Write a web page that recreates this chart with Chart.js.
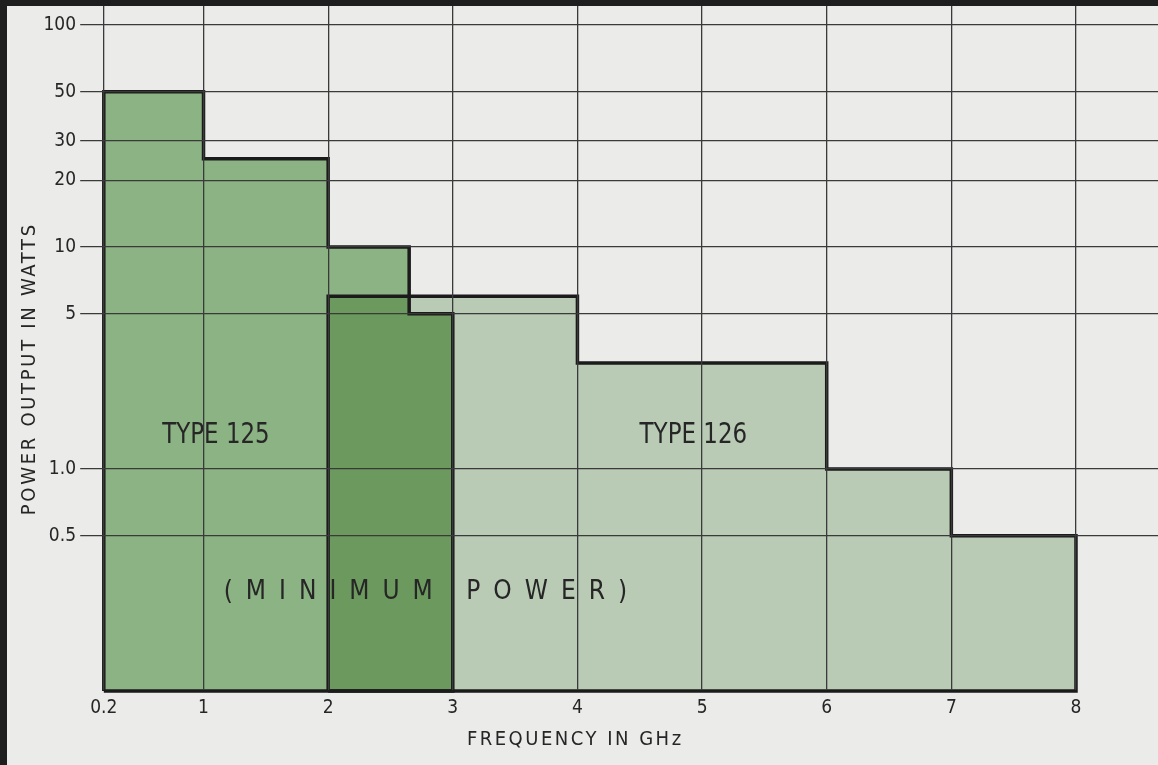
<!DOCTYPE html>
<html>
<head>
<meta charset="utf-8">
<script src="https://cdn.jsdelivr.net/npm/chart.js@4.4.1/dist/chart.umd.min.js"></script>
<style>
html,body{margin:0;padding:0;background:#ebebea;overflow:hidden}
canvas{display:block}
</style>
</head>
<body>
<canvas id="c" width="1158" height="765"></canvas>
<script>
// ---------- data ----------
const xTickValues = [0.2, 1, 2, 3, 4, 5, 6, 7, 8];
const xTickLabels = ['0.2', '1', '2', '3', '4', '5', '6', '7', '8'];
const yTickValues = [100, 50, 30, 20, 10, 5, 1, 0.5];
const yTickLabels = ['100', '50', '30', '20', '10', '5', '1.0', '0.5'];

// frequency band edges (GHz) and minimum power (W) for each band
const type125Edges = [0.2, 1, 2, 2.65, 3];
const type125Power = [50, 25, 10, 5];
const type126Edges = [2, 4, 6, 7, 8];
const type126Power = [6, 3, 1.0, 0.5];

const seriesNames = ['TYPE 125', 'TYPE 126'];
const noteText = '(MINIMUM POWER)';
const xTitle = 'FREQUENCY IN GHz';
const yTitle = 'POWER OUTPUT IN WATTS';

// ---------- helpers ----------
const FONT = "'Liberation Sans Narrow','DejaVu Sans Condensed','Arial Narrow',sans-serif";
const Y_MIN = 0.1, Y_MAX = 129.6;
const X_MIN = 0.009, X_MAX = 8.658;

function stepPoints(edges, power, closed) {
  const pts = [{x: edges[0], y: Y_MIN}];
  power.forEach((p, i) => pts.push({x: edges[i], y: p}));
  pts.push({x: edges[edges.length - 1], y: Y_MIN});
  if (closed) pts.push({x: edges[0], y: Y_MIN});
  return pts;
}
function valueAt(edges, power, f) {
  for (let i = 0; i < power.length; i++) {
    if (f >= edges[i] && f < edges[i + 1]) return power[i];
  }
  return null;
}
function overlapPoints() {
  const lo = Math.max(type125Edges[0], type126Edges[0]);
  const hi = Math.min(type125Edges[type125Edges.length - 1], type126Edges[type126Edges.length - 1]);
  const brk = [...new Set([...type125Edges, ...type126Edges])].filter(e => e >= lo && e <= hi).sort((a, b) => a - b);
  const pts = [{x: lo, y: Y_MIN}];
  brk.slice(0, -1).forEach(e => pts.push({x: e, y: Math.min(valueAt(type125Edges, type125Power, e), valueAt(type126Edges, type126Power, e))}));
  pts.push({x: hi, y: Y_MIN});
  return pts;
}

const COL125 = '#8cb383';
const COL126 = '#b9cab5';
const COLOVL = '#6c995d';
const INK = '#262626';

const annotations = [
  {text: seriesNames[0], fx: 1.1, fy: 1.42, size: 29, spacing: 0, sx: 0.88},
  {text: seriesNames[1], fx: 4.93, fy: 1.42, size: 29, spacing: 0, sx: 0.88},
  {text: noteText, fx: 2.78, fy: 0.279, size: 26, spacing: 13, sx: 1}
];

function drawText(ctx, text, x, y, size, spacing, rot, sx) {
  ctx.save();
  ctx.font = size + 'px ' + FONT;
  ctx.letterSpacing = spacing + 'px';
  ctx.fillStyle = INK;
  ctx.textAlign = 'center';
  ctx.textBaseline = 'middle';
  ctx.translate(x, y);
  if (rot) ctx.rotate(rot);
  if (sx) ctx.scale(sx, 1);
  ctx.fillText(text, spacing / 2, 0);
  ctx.restore();
}

const decor = {
  id: 'decor',
  beforeDraw(chart) {
    const c = chart.ctx;
    c.save();
    c.fillStyle = '#ebebea';
    c.fillRect(0, 0, chart.width, chart.height);
    c.restore();
  },
  afterDatasetsDraw(chart) {
    const c = chart.ctx, xs = chart.scales.x, ys = chart.scales.y;
    annotations.forEach(a => drawText(c, a.text, xs.getPixelForValue(a.fx), ys.getPixelForValue(a.fy), a.size, a.spacing, 0, a.sx));
  },
  afterDraw(chart) {
    const c = chart.ctx;
    drawText(c, xTitle, 574, 740, 20, 2.5, 0, 1);
    drawText(c, yTitle, 30, 370, 20, 2.7, -Math.PI / 2, 1);
    c.save();
    c.fillStyle = '#1e1e1e';
    c.fillRect(0, 0, chart.width, 6);
    c.fillRect(0, 0, 7, chart.height);
    c.restore();
  }
};

const base = {type: 'line', pointRadius: 0, pointHoverRadius: 0, stepped: true, tension: 0};

new Chart(document.getElementById('c'), {
  data: {
    datasets: [
      Object.assign({}, base, {label: 'overlap', data: overlapPoints(), fill: 'start', backgroundColor: COLOVL, borderWidth: 0, borderColor: 'rgba(0,0,0,0)'}),
      Object.assign({}, base, {label: seriesNames[0], data: stepPoints(type125Edges, type125Power, false), fill: 'start', backgroundColor: COL125, borderWidth: 0, borderColor: 'rgba(0,0,0,0)'}),
      Object.assign({}, base, {label: seriesNames[1], data: stepPoints(type126Edges, type126Power, false), fill: 'start', backgroundColor: COL126, borderWidth: 0, borderColor: 'rgba(0,0,0,0)'}),
      Object.assign({}, base, {label: seriesNames[0] + ' outline', data: stepPoints(type125Edges, type125Power, true), fill: false, borderColor: '#1b1b1b', borderWidth: 3.5, borderJoinStyle: 'miter', clip: false}),
      Object.assign({}, base, {label: seriesNames[1] + ' outline', data: stepPoints(type126Edges, type126Power, true), fill: false, borderColor: '#1b1b1b', borderWidth: 3.5, borderJoinStyle: 'miter', clip: false})
    ]
  },
  options: {
    responsive: false,
    animation: false,
    events: [],
    layout: {padding: 0},
    plugins: {
      legend: {display: false},
      tooltip: {enabled: false},
      filler: {drawTime: 'beforeDatasetsDraw'}
    },
    scales: {
      x: {
        type: 'linear', min: X_MIN, max: X_MAX,
        afterBuildTicks: s => { s.ticks = xTickValues.map(v => ({value: v})); },
        afterFit: s => { s.height = 74; s.paddingLeft = 0; s.paddingRight = 0; },
        ticks: {
          callback: v => xTickLabels[xTickValues.indexOf(v)],
          font: {family: FONT, size: 19}, color: INK, padding: 6,
          autoSkip: false, maxRotation: 0
        },
        grid: {color: '#3a3a3a', lineWidth: 1.3, drawTicks: false, z: 1},
        border: {display: true, color: '#444', width: 1.2}
      },
      y: {
        type: 'logarithmic', min: Y_MIN, max: Y_MAX,
        afterBuildTicks: s => { s.ticks = yTickValues.map(v => ({value: v})); },
        afterFit: s => { s.width = 80; s.paddingTop = 0; s.paddingBottom = 0; },
        ticks: {
          callback: v => yTickLabels[yTickValues.indexOf(v)],
          font: {family: FONT, size: 19}, color: INK, padding: 4,
          autoSkip: false
        },
        grid: {color: '#3a3a3a', lineWidth: 1.3, drawTicks: false, z: 1},
        border: {display: true, color: '#4a3f48', width: 1.2}
      }
    }
  },
  plugins: [decor]
});
</script>
</body>
</html>
